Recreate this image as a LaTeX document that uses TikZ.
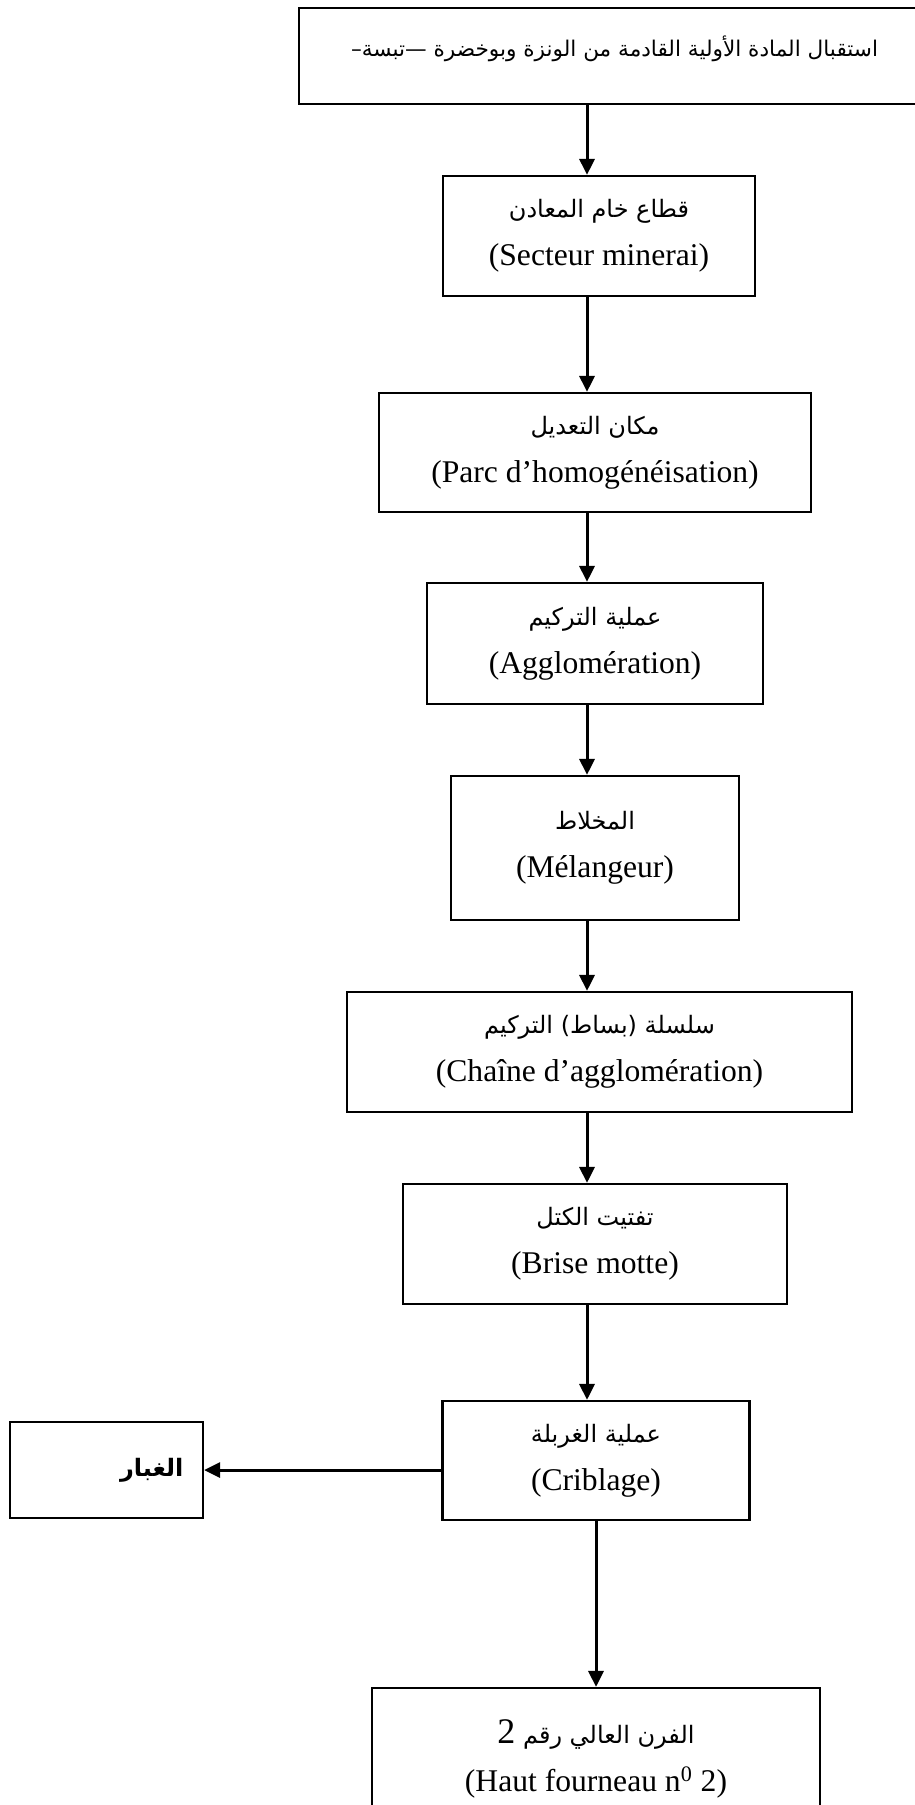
\documentclass[tikz,border=0pt]{standalone}
\usepackage{fontspec}
\setmainfont{Liberation Serif}
\newfontfamily\arabicfont[Script=Arabic]{DejaVu Sans}
\TeXXeTstate=1
\usetikzlibrary{arrows.meta}
\newcommand{\ar}[1]{{\arabicfont\fontsize{12}{24}\selectfont\beginR #1\endR}}
\tikzset{box/.style={draw, line width=1.1pt, align=center, inner sep=0pt, font=\fontsize{15.8}{24}\selectfont}}
\begin{document}
\begin{tikzpicture}[x=0.5pt, y=-0.5pt, >={Triangle[length=8pt,width=7.5pt]}, line width=1.5pt]
		\useasboundingbox (0,0) rectangle (915,1805);
		\node[box, minimum width=315.5pt, minimum height=48pt, text depth=10pt] (R) at (614.5,56) {{\arabicfont\fontsize{10.8}{24}\selectfont\beginR استقبال المادة الأولية القادمة من الونزة وبوخضرة —تبسة–\endR}};
		\node[box, minimum width=156pt, minimum height=60pt] (S) at (599,236) {\ar{قطاع خام المعادن}\\(Secteur minerai)};
		\node[box, minimum width=216pt, minimum height=59.5pt] (P) at (595,452.5) {\ar{مكان التعديل}\\(Parc d’homogénéisation)};
		\node[box, minimum width=168pt, minimum height=60.5pt] (A) at (595,643.5) {\ar{عملية التركيم}\\(Agglomération)};
		\node[box, minimum width=144pt, minimum height=72pt] (M) at (595,848) {\ar{المخلاط}\\(Mélangeur)};
		\node[box, minimum width=252.5pt, minimum height=60pt] (C) at (599.5,1052) {\ar{سلسلة (بساط) التركيم}\\(Chaîne d’agglomération)};
		\node[box, minimum width=192pt, minimum height=60pt] (B) at (595,1244) {\ar{تفتيت الكتل}\\(Brise motte)};
		\node[box, minimum width=153.5pt, minimum height=59.5pt] (G) at (596,1460.5) {\ar{عملية الغربلة}\\(Criblage)};
		\node[box, minimum width=96.5pt, minimum height=48pt, text width=77pt, align=right, inner xsep=9.75pt] (D) at (106.5,1470) {\ar{\bfseries الغبار}};
		\node[box, minimum width=224pt, minimum height=71pt] (F) at (596,1759) {\ar{الفرن العالي رقم {\rmfamily\fontsize{18}{24}\selectfont 2}}\\(Haut fourneau n\textsuperscript{0} 2)};
		\coordinate (T) at (587,0);
		\draw[->] (R.south -| T) -- (S.north -| T);
		\draw[->] (S.south -| T) -- (P.north -| T);
		\draw[->] (P.south -| T) -- (A.north -| T);
		\draw[->] (A.south -| T) -- (M.north -| T);
		\draw[->] (M.south -| T) -- (C.north -| T);
		\draw[->] (C.south -| T) -- (B.north -| T);
		\draw[->] (B.south -| T) -- (G.north -| T);
		\draw[->] (G.west |- D) -- (D.east);
		\draw[->] (G.south) -- (G.south |- F.north);
\end{tikzpicture}
\end{document}
